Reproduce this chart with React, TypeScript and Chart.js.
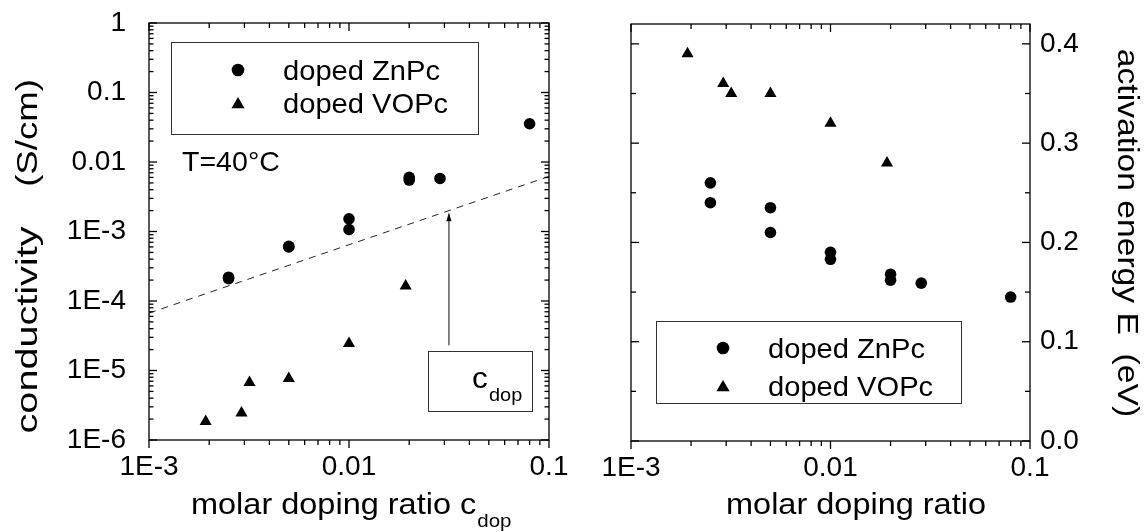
import React, { useEffect, useRef } from 'react';
import { Chart, registerables } from 'chart.js';

Chart.register(...registerables);

// ---------- data ----------
const ZNPC_CONC = [0.0025, 0.0025, 0.005, 0.005, 0.01, 0.01, 0.02, 0.02, 0.0285, 0.08];
const ZNPC_COND = [2.1e-4, 2.2e-4, 6.0e-4, 6.1e-4, 1.52e-3, 1.07e-3, 6.0e-3, 5.5e-3, 5.8e-3, 0.0355];
const ZNPC_EA = [0.26, 0.24, 0.235, 0.21, 0.19, 0.183, 0.168, 0.162, 0.159, 0.145];

const VOPC_CONC = [0.00192, 0.0029, 0.00318, 0.005, 0.01, 0.0192];
const VOPC_COND = [1.85e-6, 2.45e-6, 6.7e-6, 7.7e-6, 2.44e-5, 1.65e-4];
const VOPC_EA = [0.39, 0.36, 0.35, 0.35, 0.32, 0.28];

const FIT_CONC = [0.001, 0.1];
const FIT_COND = [6.7e-5, 6.2e-3];

const ARROW_CONC = 0.0316;
const ARROW_FROM = 2.3e-5;
const ARROW_TO = 1.9e-3;

const CONC_TICKS = [0.001, 0.01, 0.1];
const CONC_TICK_LABELS = ['1E-3', '0.01', '0.1'];
const COND_TICKS = [1e-6, 1e-5, 1e-4, 1e-3, 0.01, 0.1, 1];
const COND_TICK_LABELS = ['1E-6', '1E-5', '1E-4', '1E-3', '0.01', '0.1', '1'];
const EA_TICKS = [0, 0.1, 0.2, 0.3, 0.4];
const EA_TICK_LABELS = ['0.0', '0.1', '0.2', '0.3', '0.4'];
const EA_MINOR_STEP = 0.05;

const SERIES_NAMES = ['doped ZnPc', 'doped VOPc'];

// ---------- helpers ----------
const FONT = "'Liberation Sans', Arial, Helvetica, sans-serif";

function logTicks(min: number, max: number) {
  const out: { v: number; major: boolean }[] = [];
  for (let e = Math.floor(Math.log10(min)); e <= Math.ceil(Math.log10(max)); e++) {
    for (let k = 1; k <= 9; k++) {
      const v = k * Math.pow(10, e);
      if (v >= min * 0.9999 && v <= max * 1.0001) out.push({ v, major: k === 1 });
    }
  }
  return out;
}

function drawTriangle(ctx: CanvasRenderingContext2D, x: number, y: number, r: number) {
  ctx.beginPath();
  let rad = 0;
  for (let i = 0; i < 3; i++) {
    const px = x + Math.sin(rad) * r;
    const py = y - Math.cos(rad) * r;
    if (i === 0) ctx.moveTo(px, py);
    else ctx.lineTo(px, py);
    rad += (2 * Math.PI) / 3;
  }
  ctx.closePath();
  ctx.fill();
}

function drawCircle(ctx: CanvasRenderingContext2D, x: number, y: number, r: number) {
  ctx.beginPath();
  ctx.arc(x, y, r, 0, Math.PI * 2);
  ctx.fill();
}

function line(ctx: CanvasRenderingContext2D, x1: number, y1: number, x2: number, y2: number) {
  ctx.beginPath();
  ctx.moveTo(x1, y1);
  ctx.lineTo(x2, y2);
  ctx.stroke();
}

// text drawn with a stretch factor along its reading direction
function sText(
  ctx: CanvasRenderingContext2D,
  text: string,
  x: number,
  y: number,
  size: number,
  sx: number,
  align: CanvasTextAlign,
  rot = 0
) {
  ctx.save();
  ctx.translate(x, y);
  if (rot) ctx.rotate(rot);
  ctx.scale(sx, 1);
  ctx.font = `${size}px ${FONT}`;
  ctx.textAlign = align;
  ctx.textBaseline = 'alphabetic';
  ctx.fillText(text, 0, 0);
  const w = ctx.measureText(text).width * sx;
  ctx.restore();
  return w;
}

function drawLogXTicks(ctx: CanvasRenderingContext2D, chart: any) {
  const xs = chart.scales.x;
  const { top, bottom } = chart.chartArea;
  for (const t of logTicks(xs.min, xs.max)) {
    const px = xs.getPixelForValue(t.v);
    const len = t.major ? 8 : 5;
    line(ctx, px, bottom, px, bottom + len); // outward
    line(ctx, px, top, px, top + len); // inward
  }
}

function drawFrame(ctx: CanvasRenderingContext2D, chart: any) {
  const { left, right, top, bottom } = chart.chartArea;
  ctx.strokeRect(left, top, right - left, bottom - top);
}

function drawLegend(
  ctx: CanvasRenderingContext2D,
  box: [number, number, number, number],
  markerX: number,
  textX: number,
  rowY: [number, number]
) {
  ctx.save();
  ctx.lineWidth = 1;
  ctx.strokeStyle = '#333';
  ctx.strokeRect(box[0] + 0.5, box[1] + 0.5, box[2] - box[0], box[3] - box[1]);
  ctx.fillStyle = '#000';
  drawCircle(ctx, markerX, rowY[0], 6.3);
  drawTriangle(ctx, markerX, rowY[1] + 1.5, 7.6);
  sText(ctx, SERIES_NAMES[0], textX, rowY[0] + 10, 28, 1.04, 'left');
  sText(ctx, SERIES_NAMES[1], textX, rowY[1] + 10, 28, 1.04, 'left');
  ctx.restore();
}

// ---------- plugins ----------
const leftDecor = {
  id: 'leftDecor',
  afterDraw(chart: any) {
    const ctx: CanvasRenderingContext2D = chart.ctx;
    const ys = chart.scales.y;
    const xs = chart.scales.x;
    const { left, right } = chart.chartArea;
    ctx.save();
    ctx.strokeStyle = '#000';
    ctx.fillStyle = '#000';
    ctx.lineWidth = 1.3;
    drawFrame(ctx, chart);
    drawLogXTicks(ctx, chart);
    for (const t of logTicks(ys.min, ys.max)) {
      const py = ys.getPixelForValue(t.v);
      const len = t.major ? 8 : 4.5;
      line(ctx, left, py, left + len, py);
      line(ctx, right, py, right - len, py);
    }

    // legend
    drawLegend(ctx, [171, 42, 478, 134], 238, 283, [70, 103]);

    // T=40°C
    sText(ctx, 'T=40°C', 182, 171, 28, 1.02, 'left');

    // arrow
    const ax = xs.getPixelForValue(ARROW_CONC);
    const ay1 = ys.getPixelForValue(ARROW_FROM);
    const ay2 = ys.getPixelForValue(ARROW_TO);
    ctx.lineWidth = 1;
    ctx.strokeStyle = '#111';
    line(ctx, ax, ay1, ax, ay2 + 6);
    ctx.beginPath();
    ctx.moveTo(ax, ay2);
    ctx.lineTo(ax - 2.5, ay2 + 9);
    ctx.lineTo(ax + 2.5, ay2 + 9);
    ctx.closePath();
    ctx.fill();

    // c_dop box
    ctx.strokeStyle = '#333';
    ctx.strokeRect(428.5, 351.5, 104, 60);
    sText(ctx, 'c', 472, 388, 30, 1.05, 'left');
    sText(ctx, 'dop', 489, 401, 19, 1.05, 'left');

    // x title
    const w = sText(ctx, 'molar doping ratio c', 191, 514, 29, 1.12, 'left');
    sText(ctx, 'dop', 191 + w + 1, 527, 19, 1.08, 'left');

    // y title (rotated)
    sText(ctx, 'conductivity', 37, 330, 30, 1.32, 'center', -Math.PI / 2);
    sText(ctx, '(S/cm)', 37, 133, 30, 1.22, 'center', -Math.PI / 2);
    ctx.restore();
  },
};

const rightDecor = {
  id: 'rightDecor',
  afterDraw(chart: any) {
    const ctx: CanvasRenderingContext2D = chart.ctx;
    const ys = chart.scales.y;
    const { left, right } = chart.chartArea;
    ctx.save();
    ctx.strokeStyle = '#000';
    ctx.fillStyle = '#000';
    ctx.lineWidth = 1.3;
    drawFrame(ctx, chart);
    drawLogXTicks(ctx, chart);
    const n = Math.round(ys.max / EA_MINOR_STEP);
    for (let i = 0; i <= n; i++) {
      const v = i * EA_MINOR_STEP;
      if (v > ys.max) break;
      const py = ys.getPixelForValue(v);
      const major = i % 2 === 0;
      const len = major ? 8 : 5;
      line(ctx, left, py, left + len, py);
      line(ctx, right, py, right - len, py);
    }

    drawLegend(ctx, [656 - 590, 321, 961 - 590, 403], 723 - 590, 768 - 590, [348, 386]);

    // x title
    sText(ctx, 'molar doping ratio', 856 - 590, 514, 29, 1.12, 'center');

    // y title (rotated, reading downward)
    sText(ctx, 'activation energy E  (eV)', 1118 - 590, 233, 29, 1.16, 'center', Math.PI / 2);
    ctx.restore();
  },
};

// ---------- component ----------
const tickFont = { family: FONT, size: 28 };

function xAxis(height: number) {
  return {
    type: 'logarithmic' as const,
    position: 'bottom' as const,
    min: 0.001,
    max: 0.1,
    afterBuildTicks: (s: any) => {
      s.ticks = CONC_TICKS.map((v) => ({ value: v }));
    },
    afterFit: (s: any) => {
      s.height = height;
      s.paddingLeft = 0;
      s.paddingRight = 0;
    },
    ticks: {
      autoSkip: false,
      maxRotation: 0,
      minRotation: 0,
      padding: 10,
      color: '#000',
      font: tickFont,
      callback: (_v: any, i: number) => CONC_TICK_LABELS[i],
    },
    grid: { display: false, drawTicks: false },
    border: { display: false },
  };
}

export default function App() {
  const leftRef = useRef<HTMLCanvasElement | null>(null);
  const rightRef = useRef<HTMLCanvasElement | null>(null);

  useEffect(() => {
    const znpcCond = ZNPC_CONC.map((x, i) => ({ x, y: ZNPC_COND[i] }));
    const vopcCond = VOPC_CONC.map((x, i) => ({ x, y: VOPC_COND[i] }));
    const fit = FIT_CONC.map((x, i) => ({ x, y: FIT_COND[i] }));
    const znpcEa = ZNPC_CONC.map((x, i) => ({ x, y: ZNPC_EA[i] }));
    const vopcEa = VOPC_CONC.map((x, i) => ({ x, y: VOPC_EA[i] }));

    const common = {
      responsive: false,
      animation: false as const,
      devicePixelRatio: 1,
      plugins: { legend: { display: false }, tooltip: { enabled: false }, title: { display: false } },
      events: [] as any[],
    };

    const circleStyle = {
      pointStyle: 'circle',
      pointRadius: 5.8,
      backgroundColor: '#000',
      borderWidth: 0,
    };
    const triangleStyle = {
      pointStyle: 'triangle',
      pointRadius: 7,
      backgroundColor: '#000',
      borderWidth: 0,
    };

    const left = new Chart(leftRef.current!, {
      type: 'scatter',
      data: {
        datasets: [
          {
            type: 'line',
            label: 'fit',
            data: fit,
            borderColor: '#222',
            borderWidth: 1,
            borderDash: [7, 6],
            pointRadius: 0,
            fill: false,
          } as any,
          { label: SERIES_NAMES[0], data: znpcCond, ...circleStyle } as any,
          { label: SERIES_NAMES[1], data: vopcCond, ...triangleStyle } as any,
        ],
      },
      options: {
        ...common,
        layout: { padding: { top: 23, right: 41, left: 0, bottom: 0 } },
        scales: {
          x: xAxis(92),
          y: {
            type: 'logarithmic',
            position: 'left',
            min: 1e-6,
            max: 1,
            afterBuildTicks: (s: any) => {
              s.ticks = COND_TICKS.map((v) => ({ value: v }));
            },
            afterFit: (s: any) => {
              s.width = 149;
              s.paddingTop = 0;
              s.paddingBottom = 0;
            },
            ticks: {
              autoSkip: false,
              padding: 23,
              color: '#000',
              font: tickFont,
              callback: (_v: any, i: number) => COND_TICK_LABELS[i],
            },
            grid: { display: false, drawTicks: false },
            border: { display: false },
          },
        },
      } as any,
      plugins: [leftDecor],
    });

    const right = new Chart(rightRef.current!, {
      type: 'scatter',
      data: {
        datasets: [
          { label: SERIES_NAMES[0], data: znpcEa, ...circleStyle } as any,
          { label: SERIES_NAMES[1], data: vopcEa, ...triangleStyle } as any,
        ],
      },
      options: {
        ...common,
        layout: { padding: { top: 24, right: 0, left: 41, bottom: 0 } },
        scales: {
          x: xAxis(91),
          y: {
            type: 'linear',
            position: 'right',
            min: 0,
            max: 0.42,
            afterBuildTicks: (s: any) => {
              s.ticks = EA_TICKS.map((v) => ({ value: v }));
            },
            afterFit: (s: any) => {
              s.width = 117;
              s.paddingTop = 0;
              s.paddingBottom = 0;
            },
            ticks: {
              autoSkip: false,
              padding: 10,
              color: '#000',
              font: tickFont,
              callback: (_v: any, i: number) => EA_TICK_LABELS[i],
            },
            grid: { display: false, drawTicks: false },
            border: { display: false },
          },
        },
      } as any,
      plugins: [rightDecor],
    });

    return () => {
      left.destroy();
      right.destroy();
    };
  }, []);

  return (
    <div
      style={{
        position: 'fixed',
        left: 0,
        top: 0,
        width: 1147,
        height: 532,
        background: '#fff',
        overflow: 'hidden',
      }}
    >
      <canvas
        ref={leftRef}
        width={590}
        height={532}
        style={{ position: 'absolute', left: 0, top: 0, width: 590, height: 532 }}
      />
      <canvas
        ref={rightRef}
        width={557}
        height={532}
        style={{ position: 'absolute', left: 590, top: 0, width: 557, height: 532 }}
      />
    </div>
  );
}
